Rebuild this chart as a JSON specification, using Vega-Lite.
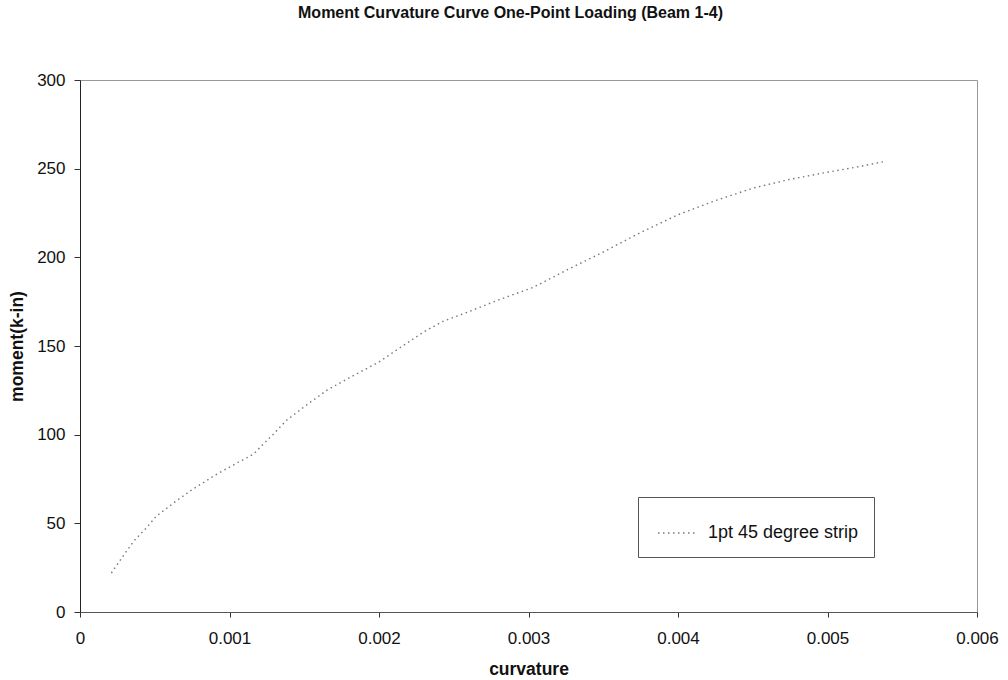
{
  "$schema": "https://vega.github.io/schema/vega-lite/v6.json",
  "width": 897,
  "height": 532,
  "autosize": {"type": "none"},
  "padding": {"left": 80, "top": 80, "right": 31, "bottom": 68},
  "background": "white",
  "title": {
    "text": "Moment Curvature Curve One-Point Loading (Beam 1-4)",
    "font": "Liberation Sans",
    "fontSize": 16,
    "fontWeight": "bold",
    "color": "#111",
    "anchor": "middle",
    "dx": -18,
    "offset": 50
  },
  "config": {
    "view": {"stroke": "#999", "strokeWidth": 1},
    "axis": {
      "grid": false,
      "labelFont": "Liberation Sans",
      "labelFontSize": 17,
      "labelColor": "#111",
      "titleFont": "Liberation Sans",
      "titleFontSize": 17.5,
      "titleFontWeight": "bold",
      "titleColor": "#111",
      "tickColor": "#333",
      "domainColor": "#555"
    }
  },
  "data": {
    "values": [
      {"c": 0.00021, "m": 22, "s": "1pt 45 degree strip"},
      {"c": 0.00030, "m": 33, "s": "1pt 45 degree strip"},
      {"c": 0.00036, "m": 40, "s": "1pt 45 degree strip"},
      {"c": 0.00045, "m": 48, "s": "1pt 45 degree strip"},
      {"c": 0.00051, "m": 54, "s": "1pt 45 degree strip"},
      {"c": 0.00065, "m": 63, "s": "1pt 45 degree strip"},
      {"c": 0.00075, "m": 69, "s": "1pt 45 degree strip"},
      {"c": 0.00092, "m": 78, "s": "1pt 45 degree strip"},
      {"c": 0.00105, "m": 84, "s": "1pt 45 degree strip"},
      {"c": 0.00116, "m": 89, "s": "1pt 45 degree strip"},
      {"c": 0.00123, "m": 95, "s": "1pt 45 degree strip"},
      {"c": 0.00129, "m": 100, "s": "1pt 45 degree strip"},
      {"c": 0.00138, "m": 108, "s": "1pt 45 degree strip"},
      {"c": 0.00152, "m": 117, "s": "1pt 45 degree strip"},
      {"c": 0.00165, "m": 125, "s": "1pt 45 degree strip"},
      {"c": 0.00180, "m": 132, "s": "1pt 45 degree strip"},
      {"c": 0.00200, "m": 141, "s": "1pt 45 degree strip"},
      {"c": 0.00214, "m": 149, "s": "1pt 45 degree strip"},
      {"c": 0.00230, "m": 158, "s": "1pt 45 degree strip"},
      {"c": 0.00243, "m": 164, "s": "1pt 45 degree strip"},
      {"c": 0.00259, "m": 169, "s": "1pt 45 degree strip"},
      {"c": 0.00280, "m": 176, "s": "1pt 45 degree strip"},
      {"c": 0.00303, "m": 183, "s": "1pt 45 degree strip"},
      {"c": 0.00326, "m": 193, "s": "1pt 45 degree strip"},
      {"c": 0.00350, "m": 203, "s": "1pt 45 degree strip"},
      {"c": 0.00375, "m": 214, "s": "1pt 45 degree strip"},
      {"c": 0.00400, "m": 224, "s": "1pt 45 degree strip"},
      {"c": 0.00425, "m": 232, "s": "1pt 45 degree strip"},
      {"c": 0.00450, "m": 239, "s": "1pt 45 degree strip"},
      {"c": 0.00475, "m": 244, "s": "1pt 45 degree strip"},
      {"c": 0.00500, "m": 248, "s": "1pt 45 degree strip"},
      {"c": 0.00520, "m": 251, "s": "1pt 45 degree strip"},
      {"c": 0.00538, "m": 254, "s": "1pt 45 degree strip"}
    ]
  },
  "mark": {"type": "line", "strokeWidth": 1.4, "strokeDash": [1.5, 3.5]},
  "encoding": {
    "x": {
      "field": "c",
      "type": "quantitative",
      "title": "curvature",
      "scale": {"domain": [0, 0.006], "nice": false},
      "axis": {
        "values": [0, 0.001, 0.002, 0.003, 0.004, 0.005, 0.006],
        "format": ".3~f",
        "labelPadding": 13,
        "titlePadding": 14,
        "tickSize": 5,
        "labelFlush": false
      }
    },
    "y": {
      "field": "m",
      "type": "quantitative",
      "title": "moment(k-in)",
      "scale": {"domain": [0, 300], "nice": false},
      "axis": {
        "values": [0, 50, 100, 150, 200, 250, 300],
        "labelPadding": 9,
        "titlePadding": 10,
        "tickSize": 6,
        "domainColor": "#222"
      }
    },
    "color": {
      "field": "s",
      "type": "nominal",
      "scale": {"range": ["#777"]},
      "legend": {
        "title": null,
        "orient": "none",
        "legendX": 558,
        "legendY": 417,
        "direction": "vertical",
        "symbolType": "stroke",
        "symbolDash": [1.5, 3.5],
        "symbolStrokeWidth": 1.4,
        "symbolSize": 1600,
        "symbolOffset": 4,
        "labelFont": "Liberation Sans",
        "labelFontSize": 18,
        "labelColor": "#111",
        "labelOffset": 9,
        "labelExpr": "datum.label + '     '",
        "padding": 15,
        "fillColor": "white",
        "strokeColor": "#555",
        "labelLimit": 300
      }
    }
  }
}
